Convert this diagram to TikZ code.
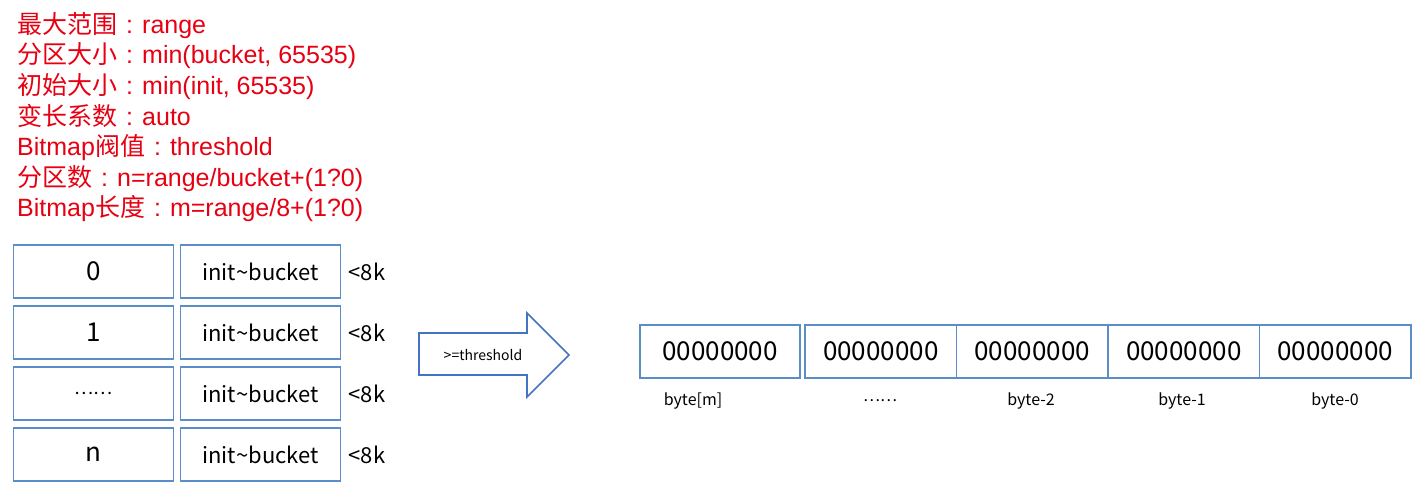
\documentclass[tikz,border=0pt]{standalone}
\usepackage{fontspec}
\setmainfont{Liberation Sans}
\newfontfamily\cjk{Noto Sans CJK SC}
\usetikzlibrary{positioning}
\definecolor{notered}{RGB}{230,0,18}
\definecolor{cellblue}{RGB}{91,141,200}
\definecolor{arrowblue}{RGB}{68,114,196}
\newcommand{\colonsep}{\makebox[25pt][c]{:}}

\begin{document}
\begin{tikzpicture}[
    x=1pt, y=-1pt,
    note/.style={anchor=base west, inner sep=0, text=notered, font=\fontsize{25}{30}\selectfont},
    cell/.style={draw=cellblue, line width=1.6pt, outer sep=0, inner sep=0, minimum width=160pt, minimum height=53pt, font=\cjk\fontsize{22}{26}\selectfont},
    index/.style={cell, font=\cjk\fontsize{26}{30}\selectfont},
    limit/.style={anchor=west, inner sep=0, font=\cjk\fontsize{22}{26}\selectfont},
    bytebox/.style={draw=cellblue, line width=1.6pt, outer sep=0, inner sep=0, minimum width=151.5pt, minimum height=53pt, font=\cjk\fontsize{26}{30}\selectfont},
    bytename/.style={inner sep=0, font=\cjk\fontsize{16}{20}\selectfont}
]
\useasboundingbox (0,0) rectangle (1414,487);

% parameters
\node[note] (range)  at (17,34)  {{\cjk 最大范围}\colonsep range};
\node[note] (bucket) at (17,64)  {{\cjk 分区大小}\colonsep min(bucket, 65535)};
\node[note] (init)   at (17,95)  {{\cjk 初始大小}\colonsep min(init, 65535)};
\node[note] (factor) at (17,125) {{\cjk 变长系数}\colonsep auto};
\node[note] (thresh) at (17,155) {Bitmap{\cjk 阀值}\colonsep threshold};
\node[note] (count)  at (17,186) {{\cjk 分区数}\colonsep n=range/bucket+(1?0)};
\node[note] (mlen)   at (17,216) {Bitmap{\cjk 长度}\colonsep m=range/8+(1?0)};

% partitions
\node[index] (p0) at (93.5,271.5) {0};
\node[index, below=8pt of p0] (p1) {1};
\node[index, below=8pt of p1] (pd) {\fontsize{18}{20}\selectfont ……};
\node[index, below=8pt of pd] (pn) {n};
\node[cell, right=7pt of p0] (b0) {init\textasciitilde bucket};
\node[cell, right=7pt of p1] (b1) {init\textasciitilde bucket};
\node[cell, right=7pt of pd] (bd) {init\textasciitilde bucket};
\node[cell, right=7pt of pn] (bn) {init\textasciitilde bucket};
\node[limit, right=8pt of b0] (s0) {<8k};
\node[limit, right=8pt of b1] (s1) {<8k};
\node[limit, right=8pt of bd] (sd) {<8k};
\node[limit, right=8pt of bn] (sn) {<8k};

% switch to bitmap
\draw[arrowblue, line width=1.6pt, line join=miter]
  (419,333) -- (527,333) -- (527,313) -- (569,355) -- (527,397) -- (527,375) -- (419,375) -- cycle;
\node[inner sep=0, font=\cjk\fontsize{14}{16}\selectfont] (cond) at (483,355) {>=threshold};

% bitmap
\node[bytebox, minimum width=160pt] (km) at (720,351.5) {00000000};
\node[bytebox, right=5pt of km] (kd) {00000000};
\node[bytebox, right=0pt of kd] (k2) {00000000};
\node[bytebox, right=0pt of k2] (k1) {00000000};
\node[bytebox, right=0pt of k1] (k0) {00000000};
\node[bytename] (nm) at (693,401)  {byte[m]};
\node[bytename] (nd) at (880,401)  {……};
\node[bytename] (n2) at (1031,401) {byte-2};
\node[bytename] (n1) at (1182,401) {byte-1};
\node[bytename] (n0) at (1335,401) {byte-0};
\end{tikzpicture}
\end{document}
